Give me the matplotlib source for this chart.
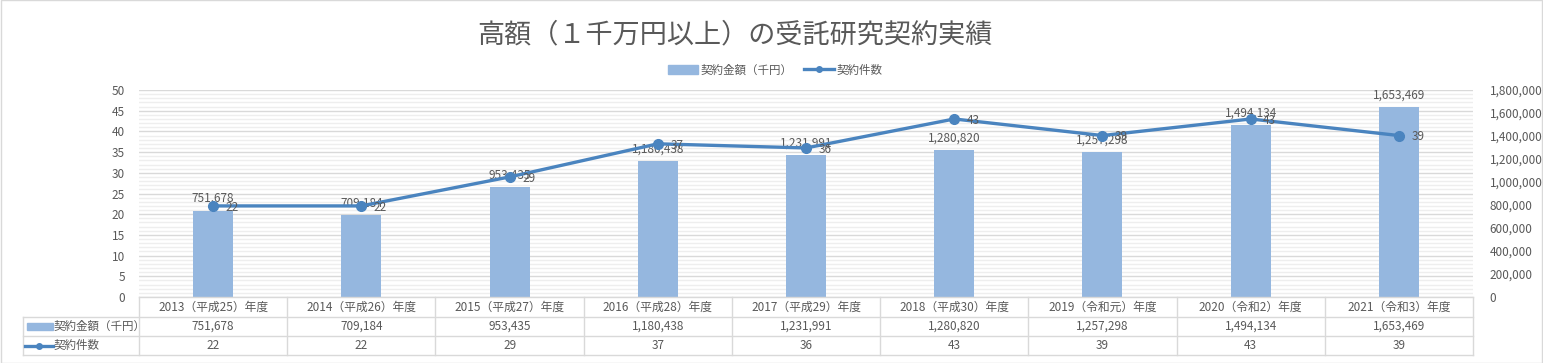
import matplotlib.pyplot as plt
import matplotlib.transforms as mtransforms
from matplotlib.lines import Line2D
from matplotlib.patches import Rectangle
from matplotlib.ticker import MultipleLocator, FuncFormatter

plt.rcParams['font.family'] = ['Noto Sans CJK JP', 'DejaVu Sans']

# data
years = ['2013（平成25）年度', '2014（平成26）年度', '2015（平成27）年度', '2016（平成28）年度',
         '2017（平成29）年度', '2018（平成30）年度', '2019（令和元）年度', '2020（令和2）年度',
         '2021（令和3）年度']
amount = [751678, 709184, 953435, 1180438, 1231991, 1280820, 1257298, 1494134, 1653469]
count = [22, 22, 29, 37, 36, 43, 39, 43, 39]
amount_label = '契約金額（千円）'
count_label = '契約件数'
title = '高額（１千万円以上）の受託研究契約実績'

W, H = 1543, 363
bar_color = '#95B7DF'
line_color = '#4A84BF'
text_color = '#595959'
grid_major = '#D9D9D9'
grid_minor = '#EEEEEE'

fig = plt.figure(figsize=(W / 100, H / 100), dpi=100)

def fx(px):
    return px / W

def fy(py):
    return 1 - py / H

x0, x1, y0, y1 = 139, 1473, 90, 297
ax = fig.add_axes([fx(x0), fy(y1), fx(x1) - fx(x0), fy(y0) - fy(y1)])
ax2 = ax.twinx()

xs = list(range(len(years)))

# bars on ax (drawn below), ticks on the right
ax.bar(xs, amount, width=0.27, color=bar_color, zorder=2)
ax.set_ylim(0, 1800000)
ax.set_xlim(-0.5, len(years) - 0.5)
ax.yaxis.tick_right()
ax.yaxis.set_major_locator(MultipleLocator(200000))
ax.yaxis.set_major_formatter(FuncFormatter(lambda v, p: f'{int(v):,}'))
ax.tick_params(axis='y', length=0, pad=12, labelsize=8.5, labelcolor=text_color)
ax.set_xticks([])
for b, v in zip(xs, amount):
    ax.annotate(f'{v:,}', (b, v), xytext=(0, 4), textcoords='offset points',
                ha='center', va='bottom', fontsize=8.5, color=text_color, zorder=5)

# line on ax2, ticks on the left
ax2.plot(xs, count, color=line_color, linewidth=2.4, marker='o', markersize=7, zorder=4)
ax2.set_ylim(0, 50)
ax2.yaxis.tick_left()
ax2.yaxis.set_major_locator(MultipleLocator(5))
ax2.yaxis.set_minor_locator(MultipleLocator(1))
ax2.tick_params(axis='y', which='both', length=0, pad=10, labelsize=8.5, labelcolor=text_color)
for b, v in zip(xs, count):
    ax2.annotate(str(v), (b, v), xytext=(9, -1), textcoords='offset points',
                 ha='left', va='center', fontsize=8.5, color=text_color, zorder=5)

# gridlines (from the count axis), drawn behind the bars
ax.set_zorder(1)
ax2.set_zorder(2)
ax2.patch.set_visible(False)
for g in range(0, 51):
    c = grid_major if g % 5 == 0 else grid_minor
    ax.axhline(g * 36000, color=c, linewidth=1.0, zorder=0)

for a in (ax, ax2):
    for s in a.spines.values():
        s.set_visible(False)

# title and legend
fig.text(fx(735), fy(35), title, ha='center', va='center', fontsize=19.5, color=text_color)
handles = [Rectangle((0, 0), 1, 1, color=bar_color),
           Line2D([], [], color=line_color, linewidth=2.4, marker='o', markersize=4)]
fig.legend(handles, [amount_label, count_label], loc='center', bbox_to_anchor=(fx(775), fy(70)),
           ncol=2, frameon=False, fontsize=8.3, labelcolor=text_color,
           handlelength=2.6, handletextpad=0.2, columnspacing=1.0)

# data table
tr = mtransforms.blended_transform_factory(ax.transData, fig.transFigure)
rows = [297, 317, 336, 355]
edge = '#D9D9D9'
for r in rows:
    start = 23 if r > 297 else x0
    fig.add_artist(Line2D([fx(start), fx(x1)], [fy(r), fy(r)], color=edge, linewidth=1.0))
for i in range(len(years) + 1):
    bx = i - 0.5
    fig.add_artist(Line2D([bx, bx], [fy(297), fy(355)], color=edge, linewidth=1.0, transform=tr))
fig.add_artist(Line2D([fx(23), fx(23)], [fy(317), fy(355)], color=edge, linewidth=1.0))

for i, (yl, a, c) in enumerate(zip(years, amount, count)):
    fig.text(i, fy(307), yl, transform=tr, ha='center', va='center', fontsize=8.5, color=text_color)
    fig.text(i, fy(326.5), f'{a:,}', transform=tr, ha='center', va='center', fontsize=8.5, color=text_color)
    fig.text(i, fy(345.5), str(c), transform=tr, ha='center', va='center', fontsize=8.5, color=text_color)

fig.add_artist(Rectangle((fx(27), fy(330)), fx(26), fy(323) - fy(330), color=bar_color,
                         transform=fig.transFigure))
fig.add_artist(Line2D([fx(25), fx(53)], [fy(345.5), fy(345.5)], color=line_color, linewidth=2.4,
                      transform=fig.transFigure))
fig.add_artist(Line2D([fx(39)], [fy(345.5)], color=line_color, marker='o', markersize=4,
                      transform=fig.transFigure))
fig.text(fx(54), fy(326.5), amount_label, ha='left', va='center', fontsize=8.3, color=text_color)
fig.text(fx(54), fy(345.5), count_label, ha='left', va='center', fontsize=8.3, color=text_color)

# outer border
fig.add_artist(Rectangle((fx(0.5), fy(362.5)), fx(1541), fy(0.5) - fy(362.5), fill=False,
                         edgecolor='#D9D9D9', linewidth=1.0, transform=fig.transFigure))

fig.savefig('out.png', dpi=100)
